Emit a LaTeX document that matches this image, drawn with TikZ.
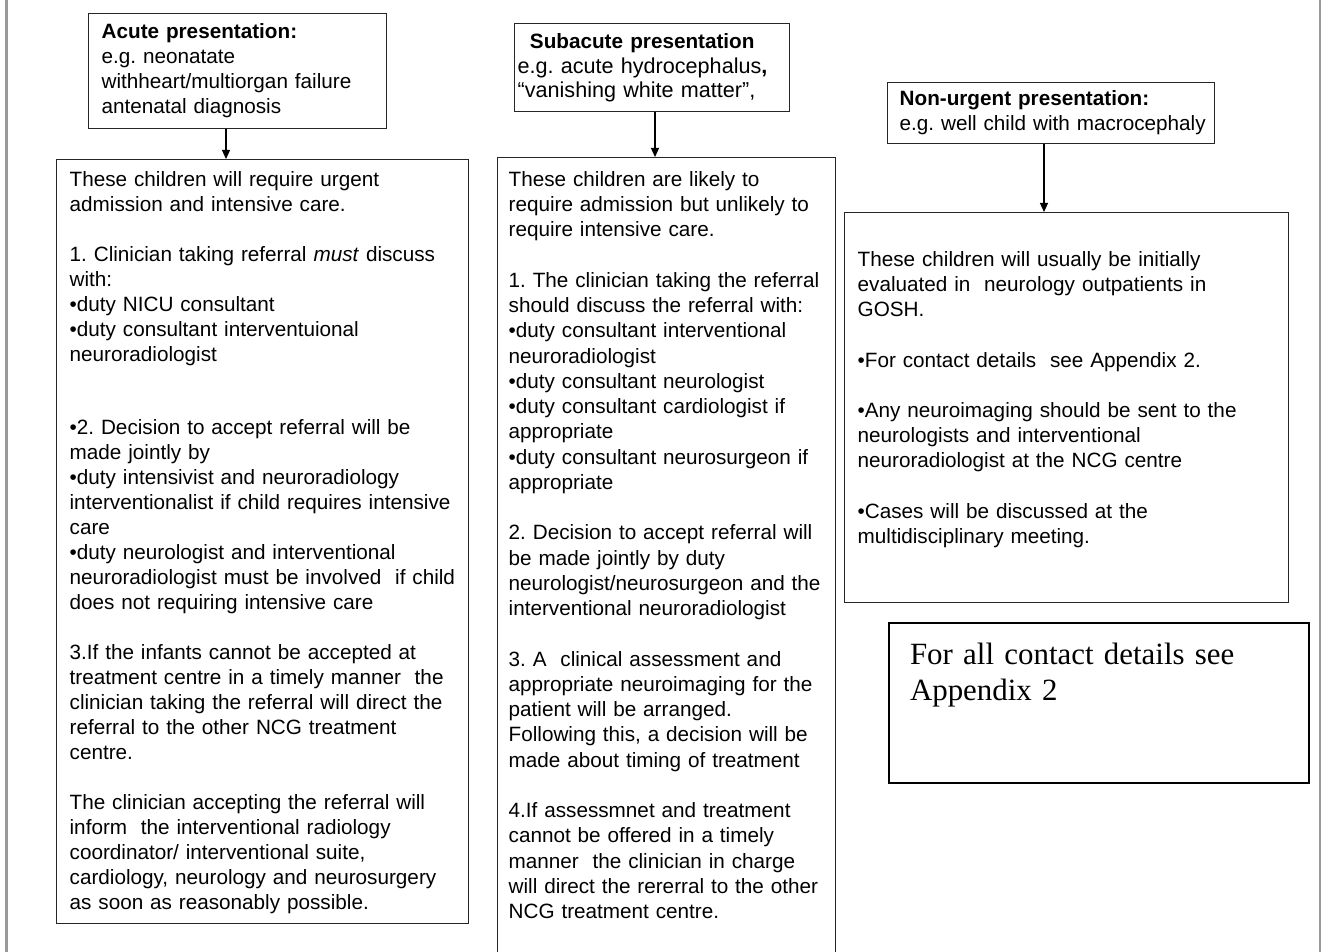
\documentclass[tikz,border=0pt]{standalone}
\usepackage{fontspec}
\setmainfont{Liberation Sans}
\newfontfamily\serifface{Liberation Serif}
\usetikzlibrary{arrows.meta}

\begin{document}
\begin{tikzpicture}[x=1pt, y=-1pt,
  box/.style={draw=black!85, line width=1.3pt, anchor=north west, align=left,
    inner ysep=0pt, font=\frenchspacing\fontsize{20.7}{25}\selectfont,
    execute at begin node={\frenchspacing\rightskip=0pt plus 1fil minus 30pt\relax}},
  notebox/.style={box, line width=2pt, draw=black, font=\serifface\fontsize{30.9}{36.7}\selectfont},
  arr/.style={line width=1.2pt, -{Triangle[length=9pt,width=8pt]}},
  pageedge/.style={draw=black!40, line width=2.5pt}]
\useasboundingbox (0,0) rectangle (1322,952);

% page edges
\draw[pageedge] (6.7,0) -- (6.7,952);
\draw[pageedge] (1319.8,0) -- (1319.8,952);

% the three presentations
\node[box, inner xsep=13pt, text width=272pt, text height=25.3pt, text depth=89.7pt] (acute) at (88,13)
  {\textbf{Acute presentation:}\\
   e.g. neonatate\\
   withheart/multiorgan failure\\
   antenatal diagnosis};
\node[box, inner xsep=3pt, text width=269pt, text height=25.3pt, text depth=62.7pt,
  font=\fontsize{21.6}{24.2}\selectfont] (subacute) at (514,23)
  {\hspace*{12.3pt}{\fontsize{20.7}{24.2}\selectfont\textbf{Subacute presentation}}\\
   e.g. acute hydrocephalus\textbf{,}\\
   “vanishing white matter”,};
\node[box, inner xsep=12pt, text width=303pt, text height=23pt, text depth=38pt] (nonurgent) at (887,82)
  {\textbf{Non-urgent presentation:}\\
   e.g. well child with macrocephaly};

% what happens next
\node[box, inner xsep=13pt, text width=386pt, text height=27pt, text depth=737pt] (acutebox) at (56,159)
  {These children will require urgent\\
   admission and intensive care.\\[25pt]
   1. Clinician taking referral \textit{must} discuss\\
   with:\\
   •duty NICU consultant\\
   •duty consultant interventuional\\
   neuroradiologist\\[48pt]
   •2. Decision to accept referral will be\\
   made jointly by\\
   •duty intensivist and neuroradiology\\
   interventionalist if child requires intensive\\
   care\\
   •duty neurologist and interventional\\
   neuroradiologist must be involved~ if child\\
   does not requiring intensive care\\[25pt]
   3.If the infants cannot be accepted at\\
   treatment centre in a timely manner~ the\\
   clinician taking the referral will direct the\\
   referral to the other NCG treatment\\
   centre.\\[25pt]
   The clinician accepting the referral will\\
   inform~ the interventional radiology\\
   coordinator/ interventional suite,\\
   cardiology, neurology and neurosurgery\\
   as soon as reasonably possible.};
\node[box, inner xsep=11pt, text width=316pt, text height=28.7pt, text depth=772pt,
  font=\fontsize{20.7}{25.25}\selectfont] (subacutebox) at (497,157)
  {These children are likely to\\
   require admission but unlikely to\\
   require intensive care.\\[25.25pt]
   1. The clinician taking the referral\\
   should discuss the referral with:\\
   •duty consultant interventional\\
   neuroradiologist\\
   •duty consultant neurologist\\
   •duty consultant cardiologist if\\
   appropriate\\
   •duty consultant neurosurgeon if\\
   appropriate\\[25.25pt]
   2. Decision to accept referral will\\
   be made jointly by duty\\
   neurologist/neurosurgeon and the\\
   interventional neuroradiologist\\[25.25pt]
   3. A~ clinical assessment and\\
   appropriate neuroimaging for the\\
   patient will be arranged.\\
   Following this, a decision will be\\
   made about timing of treatment\\[25.25pt]
   4.If assessmnet and treatment\\
   cannot be offered in a timely\\
   manner~ the clinician in charge\\
   will direct the rererral to the other\\
   NCG treatment centre.};
\node[box, inner xsep=13pt, text width=418pt, text height=53.7pt, text depth=336.3pt,
  font=\fontsize{20.7}{25.2}\selectfont] (nonurgentbox) at (844,212)
  {These children will usually be initially\\
   evaluated in~ neurology outpatients in\\
   GOSH.\\[25.2pt]
   •For contact details~ see Appendix 2.\\[25.2pt]
   •Any neuroimaging should be sent to the\\
   neurologists and interventional\\
   neuroradiologist at the NCG centre\\[25.2pt]
   •Cases will be discussed at the\\
   multidisciplinary meeting.};

\node[notebox, inner xsep=21pt, text width=378pt, text height=41pt, text depth=119pt] (contacts) at (888,622)
  {For all contact details see\\ Appendix 2};

% arrows
\coordinate (acuteout) at ([xshift=138pt]acute.south west);
\coordinate (subout) at ([xshift=141pt]subacute.south west);
\coordinate (nonout) at ([xshift=157pt]nonurgent.south west);
\draw[arr] (acuteout) -- (acuteout |- acutebox.north);
\draw[arr] (subout) -- (subout |- subacutebox.north);
\draw[arr] (nonout) -- (nonout |- nonurgentbox.north);
\end{tikzpicture}
\end{document}
